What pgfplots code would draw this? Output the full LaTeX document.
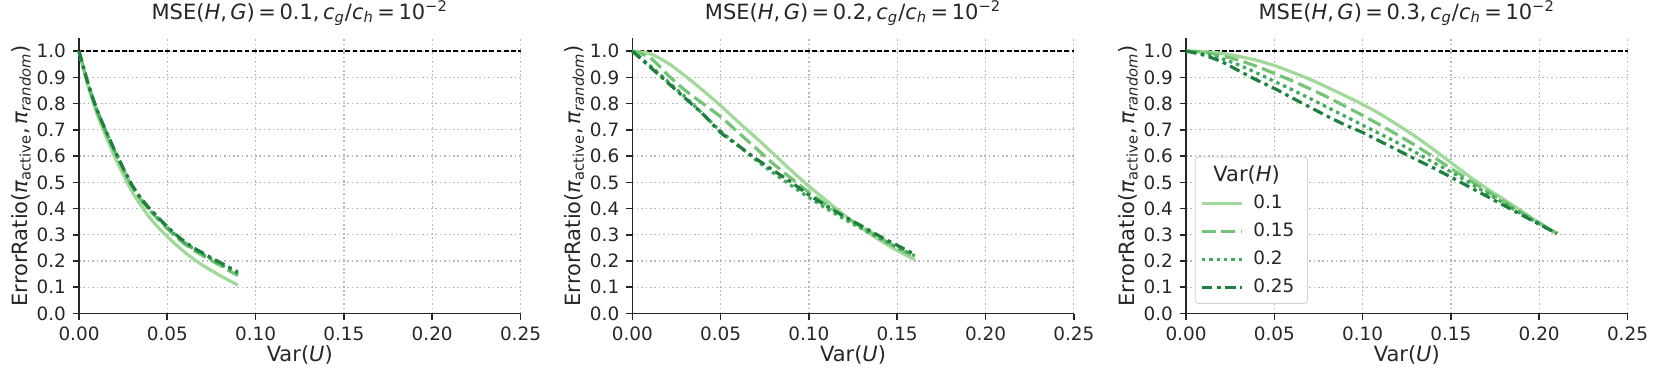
\documentclass[border=0pt]{standalone}
\usepackage{pgfplots}
\pgfplotsset{compat=1.18}
\usepackage{pgfplotstable}
\usepackage{fontspec}
\setmainfont{DejaVu Sans}

\definecolor{g1}{HTML}{A1D99B}
\definecolor{g2}{HTML}{74C476}
\definecolor{g3}{HTML}{41AB5D}
\definecolor{g4}{HTML}{1F7F3F}
\definecolor{txt}{HTML}{262626}
\definecolor{gridc}{HTML}{B8B8B8}

% Var(U), then one column per Var(H): 0.1, 0.15, 0.2, 0.25
\pgfplotstableread{
x     a     b     c     d
0.000 1.000 1.000 1.000 1.000
0.005 0.870 0.878 0.880 0.880
0.010 0.765 0.777 0.779 0.780
0.015 0.680 0.695 0.698 0.700
0.020 0.600 0.620 0.623 0.625
0.025 0.530 0.550 0.553 0.555
0.030 0.465 0.485 0.488 0.490
0.035 0.412 0.434 0.438 0.440
0.040 0.366 0.393 0.397 0.400
0.045 0.327 0.357 0.362 0.365
0.050 0.293 0.323 0.328 0.331
0.055 0.262 0.292 0.297 0.300
0.060 0.233 0.264 0.269 0.273
0.065 0.207 0.241 0.246 0.250
0.070 0.184 0.221 0.226 0.231
0.075 0.164 0.202 0.207 0.212
0.080 0.144 0.183 0.188 0.194
0.085 0.126 0.163 0.170 0.176
0.090 0.108 0.145 0.152 0.158
}\tabA

\pgfplotstableread{
x    a     b     c     d
0.00 1.000 1.000 1.000 1.000
0.01 0.990 0.975 0.945 0.940
0.02 0.955 0.910 0.885 0.880
0.03 0.905 0.850 0.825 0.820
0.04 0.850 0.800 0.760 0.760
0.05 0.792 0.750 0.695 0.690
0.06 0.730 0.690 0.640 0.640
0.07 0.670 0.630 0.585 0.590
0.08 0.608 0.570 0.535 0.545
0.09 0.545 0.515 0.488 0.500
0.10 0.485 0.462 0.442 0.452
0.11 0.430 0.415 0.400 0.410
0.12 0.375 0.370 0.360 0.370
0.13 0.325 0.330 0.323 0.333
0.14 0.280 0.290 0.287 0.295
0.15 0.240 0.250 0.252 0.260
0.16 0.205 0.215 0.220 0.225
}\tabB

\pgfplotstableread{
x    a     b     c     d
0.00 1.000 1.000 1.000 1.000
0.01 0.998 0.996 0.990 0.985
0.02 0.992 0.983 0.972 0.960
0.03 0.980 0.965 0.947 0.925
0.04 0.965 0.942 0.917 0.890
0.05 0.945 0.915 0.885 0.858
0.06 0.920 0.887 0.853 0.822
0.07 0.893 0.857 0.820 0.787
0.08 0.862 0.825 0.786 0.752
0.09 0.830 0.790 0.752 0.719
0.10 0.797 0.755 0.718 0.690
0.11 0.760 0.718 0.684 0.656
0.12 0.718 0.680 0.650 0.622
0.13 0.674 0.640 0.614 0.588
0.14 0.626 0.597 0.576 0.555
0.15 0.575 0.553 0.540 0.520
0.16 0.525 0.510 0.500 0.484
0.17 0.478 0.468 0.460 0.448
0.18 0.435 0.427 0.420 0.412
0.19 0.390 0.385 0.380 0.376
0.20 0.345 0.345 0.342 0.340
0.21 0.305 0.305 0.305 0.305
}\tabC

\newcommand{\ttl}[1]{MSE(\textit{H},\,\textit{G})\,=\,#1,\,\textit{c}\textsubscript{\textit{g}}/\textit{c}\textsubscript{\textit{h}}\,=\,10\textsuperscript{−2}}

\pgfplotsset{
  s1/.style={g1, line width=1.6pt, solid, smooth},
  s2/.style={g2, line width=1.6pt, dash pattern=on 7pt off 2.8pt, smooth},
  s3/.style={g3, line width=1.6pt, dash pattern=on 1.7pt off 2pt, smooth},
  s4/.style={g4, line width=1.6pt, dash pattern=on 5.3pt off 2.3pt on 1.8pt off 2.3pt, smooth},
  hline/.style={black, line width=0.65pt, dash pattern=on 2.4pt off 1.2pt, forget plot},
  panel/.style={
    scale only axis,
    width=220.75pt, height=137.75pt,
    xmin=0, xmax=0.25, ymin=0, ymax=1.05,
    xtick={0,0.05,0.1,0.15,0.2,0.25},
    ytick={0,0.1,0.2,0.3,0.4,0.5,0.6,0.7,0.8,0.9,1},
    xticklabel style={/pgf/number format/.cd, fixed, fixed zerofill, precision=2, assume math mode=true},
    yticklabel style={/pgf/number format/.cd, fixed, fixed zerofill, precision=1, assume math mode=true},
    tick label style={font=\fontsize{9.2}{10}\selectfont, text=txt},
    label style={font=\fontsize{10.5}{12}\selectfont, text=txt},
    title style={font=\fontsize{10.5}{12}\selectfont, text=txt,
      at={(axis description cs:0.5,1.047)}, anchor=center},
    axis x line*=bottom, axis y line*=left,
    axis line style={txt, line width=0.8pt, -},
    tick style={txt, line width=0.8pt},
    tick align=outside, major tick length=3pt,
    grid=major,
    major grid style={gridc, line width=0.6pt, dash pattern=on 0.8pt off 1.4pt},
    xlabel={Var(\textit{U})},
    ylabel={ErrorRatio(\textit{π}\textsubscript{active},\,\textit{π}\textsubscript{\textit{random}})},
    xlabel style={at={(axis description cs:0.5,-0.1506)}, anchor=center},
    ylabel style={at={(axis description cs:-0.1314,0.5)}, anchor=center},
    clip=false,
  },
}

\begin{document}
\begin{tikzpicture}
\begin{axis}[panel, at={(0pt,0pt)}, title={\ttl{0.1}}]
  \addplot[hline] coordinates {(0,1) (0.25,1)};
  \addplot[s1] table[x=x, y=a] {\tabA};
  \addplot[s2] table[x=x, y=b] {\tabA};
  \addplot[s3] table[x=x, y=c] {\tabA};
  \addplot[s4] table[x=x, y=d] {\tabA};
\end{axis}
\begin{axis}[panel, at={(276.65pt,0pt)}, title={\ttl{0.2}}]
  \addplot[hline] coordinates {(0,1) (0.25,1)};
  \addplot[s1] table[x=x, y=a] {\tabB};
  \addplot[s2] table[x=x, y=b] {\tabB};
  \addplot[s3] table[x=x, y=c] {\tabB};
  \addplot[s4] table[x=x, y=d] {\tabB};
\end{axis}
\begin{axis}[panel, at={(553.5pt,0pt)}, title={\ttl{0.3}},
  legend style={at={(0.02,0.035)}, anchor=south west, draw=black!18, rounded corners=1.5pt,
    fill=white, font=\fontsize{9.2}{11}\selectfont, text=txt, row sep=1.6pt,
    inner xsep=2.5pt, inner ysep=2pt,
    /tikz/every odd column/.append style={column sep=3pt}},
  legend cell align=left,
  legend image code/.code={\draw[#1] (0pt,0pt) -- (20pt,0pt);}]
  \addplot[hline] coordinates {(0,1) (0.25,1)};
  \addlegendimage{empty legend}
  \addlegendentry{\fontsize{10.5}{12}\selectfont\hspace*{-20pt}Var(\textit{H})}
  \addplot[s1] table[x=x, y=a] {\tabC};
  \addlegendentry{0.1}
  \addplot[s2] table[x=x, y=b] {\tabC};
  \addlegendentry{0.15}
  \addplot[s3] table[x=x, y=c] {\tabC};
  \addlegendentry{0.2}
  \addplot[s4] table[x=x, y=d] {\tabC};
  \addlegendentry{0.25\hspace*{2pt}}
\end{axis}
\pgfresetboundingbox
\path[use as bounding box] (-39.5pt,-33.75pt) rectangle (790.5pt,156.75pt);
\end{tikzpicture}
\end{document}
